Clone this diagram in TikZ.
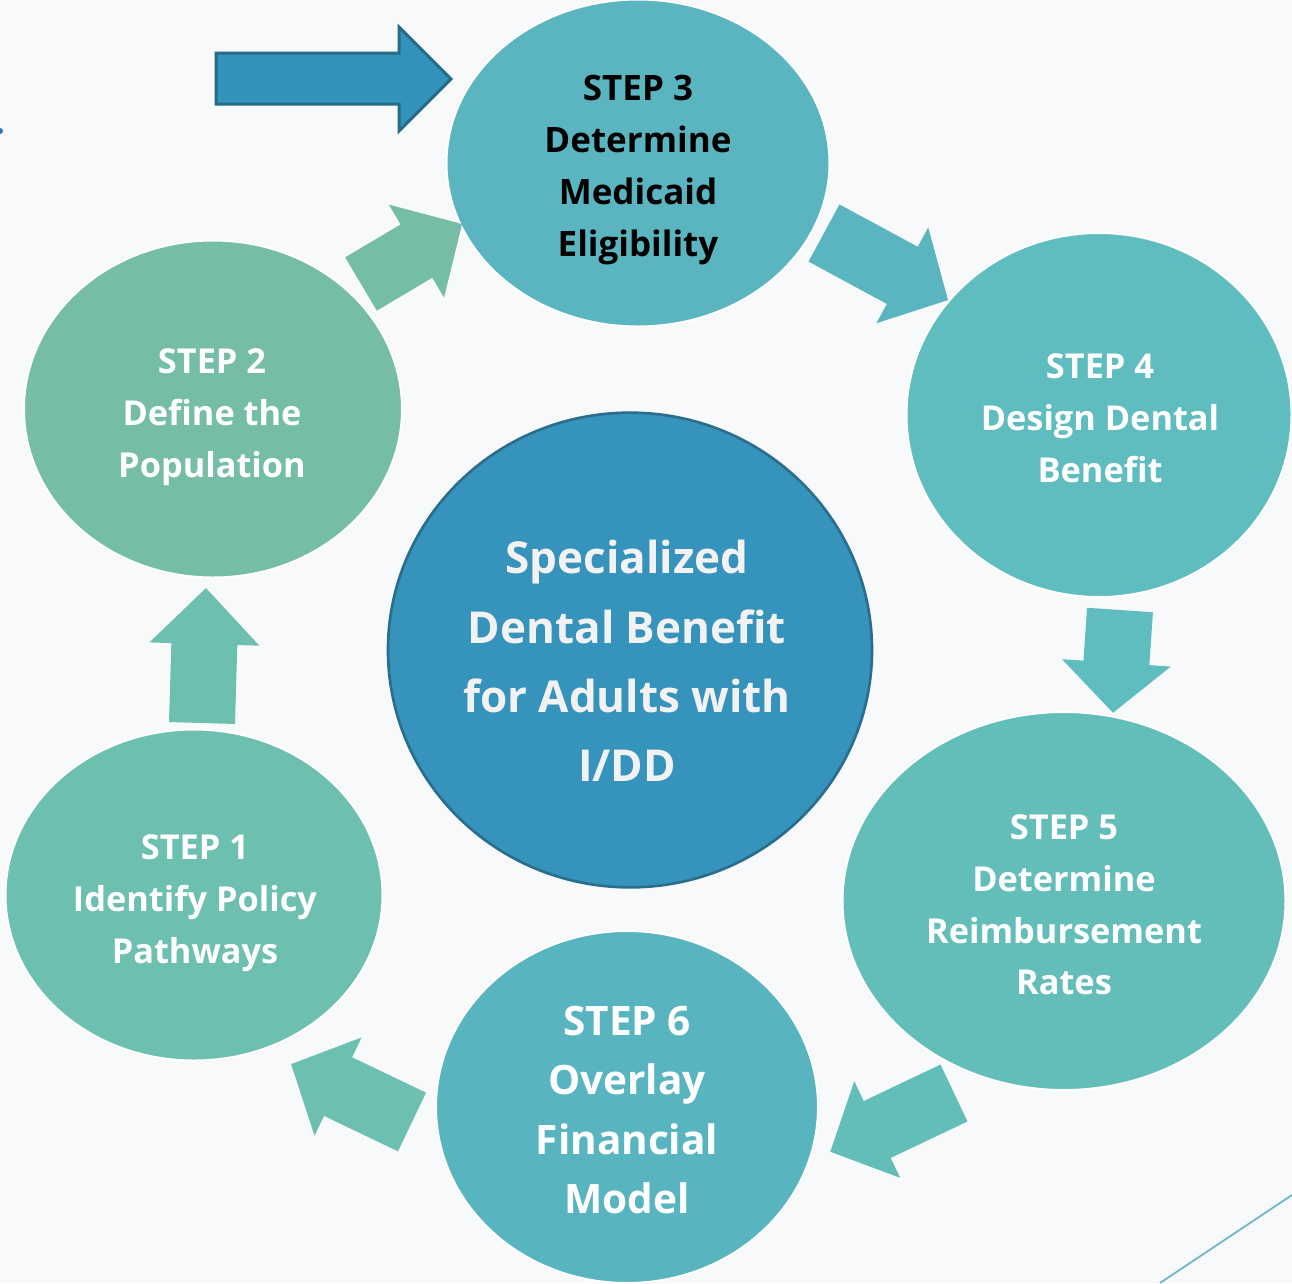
\documentclass[tikz,border=0pt]{standalone}
\usepackage{fontspec}
\setmainfont{Open Sans}
\usetikzlibrary{shapes.geometric}
\definecolor{bg}{HTML}{F8F9FA}
\definecolor{cthree}{HTML}{5AB5C0}
\definecolor{cfour}{HTML}{5FBCBF}
\definecolor{cfive}{HTML}{63BEBA}
\definecolor{csix}{HTML}{58B4BF}
\definecolor{cone}{HTML}{6DBFB0}
\definecolor{ctwo}{HTML}{75BDA7}
\definecolor{ccenter}{HTML}{3693BB}
\definecolor{ccenterline}{HTML}{2A6D8C}
\definecolor{topfill}{HTML}{3493BB}
\definecolor{topline}{HTML}{266C89}
\definecolor{decoline}{HTML}{6BB3D0}
\definecolor{dotblue}{HTML}{2E75B6}
\definecolor{offwhite}{HTML}{F2F2F2}
\newcommand{\blockarr}[8]{%
  \begin{scope}[shift={(#1,#2)},rotate=#3]
    \fill[#8] (0,-#5/2) -- (#4-#7,-#5/2) -- (#4-#7,-#6/2) -- (#4,0) --
      (#4-#7,#6/2) -- (#4-#7,#5/2) -- (0,#5/2) -- cycle;
  \end{scope}}
\tikzset{
  stepcircle/.style={ellipse, inner sep=0pt, draw=white, line width=1.5pt},
  steptext/.style={align=center, text=white, font=\bfseries\fontsize{25.75}{38.8}\selectfont},
}
\begin{document}
\begin{tikzpicture}[x=0.75pt,y=-0.75pt]
\useasboundingbox (0,0) rectangle (1292,1283);
\fill[bg] (0,0) rectangle (1292,1283);
% decorations
\fill[dotblue] (0,131) circle (3);
\coordinate (d1) at (1160,1283);
\coordinate (d2) at (1292,1195);
\draw[decoline, line width=1.3pt] (d1) -- (d2);
% circles
\node[stepcircle, fill=cthree, minimum width=287.25pt, minimum height=245.25pt] (s3) at (638,163) {};
\node[stepcircle, fill=cfour, minimum width=288.75pt, minimum height=273pt] (s4) at (1099,415) {};
\node[stepcircle, fill=cfive, minimum width=332.25pt, minimum height=283.5pt] (s5) at (1064,901) {};
\node[stepcircle, fill=csix, minimum width=286.5pt, minimum height=264pt] (s6) at (627,1107) {};
\node[stepcircle, fill=cone, minimum width=282.75pt, minimum height=248.25pt] (s1) at (194,895) {};
\node[stepcircle, fill=ctwo, minimum width=283.5pt, minimum height=252.75pt] (s2) at (213,409) {};
\node[ellipse, inner sep=0pt, fill=ccenter, draw=ccenterline, line width=2pt,
      minimum width=363pt, minimum height=356pt] (c) at (630,650) {};
% block arrows between steps
\blockarr{361}{284}{30.7}{117.5}{62}{108}{53}{ctwo}
\blockarr{824}{233}{-28.4}{141}{65}{109}{52}{cthree}
\blockarr{1120}{610}{-93.9}{103}{66}{109}{50}{cfour}
\blockarr{954}{1093}{-154.6}{137}{63}{107}{52}{cfive}
\blockarr{412}{1122}{154.4}{134}{65}{109}{52}{cone}
\blockarr{202}{723}{88.3}{135}{66}{110}{56}{cone}
% top arrow
\draw[topline, fill=topfill, line width=2.25pt, line join=miter]
  (216,53) -- (399,53) -- (399,27) -- (451,79) -- (399,131) -- (399,104) -- (216,104) -- cycle;
% texts
\node[steptext, text=black, font=\bfseries\fontsize{26.25}{39}\selectfont] (t3) at (638,170) {STEP 3\\Determine\\Medicaid\\Eligibility};
\node[steptext] (t4) at (1100,418) {STEP 4\\Design Dental\\Benefit};
\node[steptext] (t5) at (1064,905) {STEP 5\\Determine\\Reimbursement\\Rates};
\node[steptext, font=\bfseries\fontsize{30.4}{44.5}\selectfont] (t6) at (627,1110) {STEP 6\\Overlay\\Financial\\Model};
\node[steptext] (t1) at (195,903) {STEP 1\\Identify Policy\\Pathways};
\node[steptext] (t2) at (212,417) {STEP 2\\Define the\\Population};
\node[steptext, text=offwhite, font=\bfseries\fontsize{33}{52}\selectfont] (tc) at (627,661) {Specialized\\Dental Benefit\\for Adults with\\I/DD};
\end{tikzpicture}
\end{document}
